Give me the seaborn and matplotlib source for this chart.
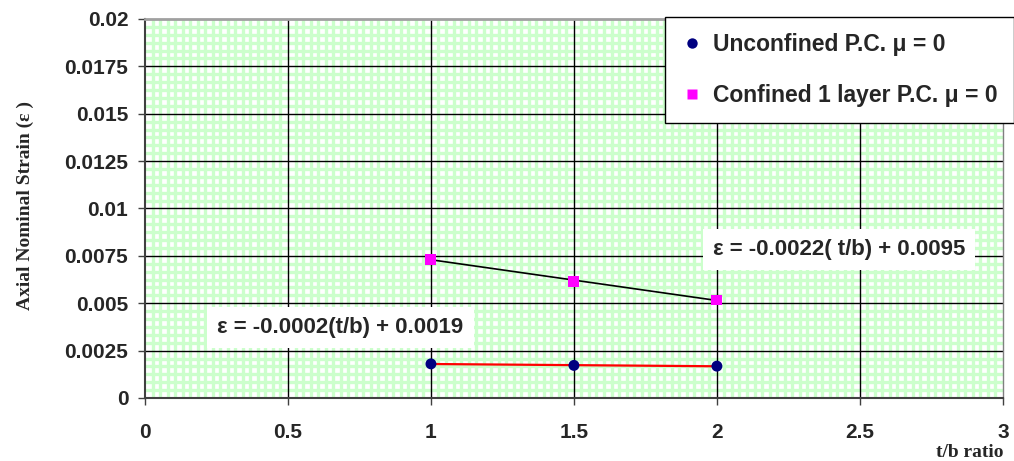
import numpy as np
import pandas as pd
import matplotlib
matplotlib.use("Agg")
import matplotlib.pyplot as plt
import seaborn as sns
from matplotlib.ticker import MultipleLocator, AutoMinorLocator

# dados
tb_ratio = [1.0, 1.5, 2.0]
unconfined = [0.00180, 0.00172, 0.00168]
confined = [0.00732, 0.00617, 0.00517]
nome_uncon = "Unconfined P.C. \u03bc = 0"
nome_con = "Confined 1 layer P.C. \u03bc = 0"
eq_uncon = "\u03b5 = -0.0002(t/b) + 0.0019"
eq_con = "\u03b5 = -0.0022( t/b) + 0.0095"
xticks = [0, 0.5, 1, 1.5, 2, 2.5, 3]
xtick_labels = ["0", "0.5", "1", "1.5", "2", "2.5", "3"]
yticks = [0, 0.0025, 0.005, 0.0075, 0.01, 0.0125, 0.015, 0.0175, 0.02]
ytick_labels = ["0", "0.0025", "0.005", "0.0075", "0.01", "0.0125", "0.015", "0.0175", "0.02"]

df = pd.DataFrame({
    "tb": tb_ratio * 2,
    "strain": unconfined + confined,
    "serie": [nome_uncon] * 3 + [nome_con] * 3,
})

sns.set_style("white")
plt.rcParams["font.family"] = ["Liberation Sans", "DejaVu Sans"]

fig = plt.figure(figsize=(10.14, 4.61), dpi=100)
ax = fig.add_axes([0.143, 0.1367, 0.846, 0.8221])

# grade verde fina (minor) e grade preta (major) por cima
ax.set_xlim(0, 3)
ax.set_ylim(0, 0.02)
ax.xaxis.set_minor_locator(AutoMinorLocator(19))
ax.yaxis.set_minor_locator(AutoMinorLocator(6))
ax.grid(which="minor", color="#ccffcc", lw=2.4)
ax.set_axisbelow(True)
for xv in xticks[1:-1]:
    ax.axvline(xv, color="black", lw=1.0, zorder=1.5)
for yv in yticks[1:-1]:
    ax.axhline(yv, color="black", lw=1.0, zorder=1.5)

# linhas de tendencia
sns.regplot(x=tb_ratio, y=confined, ax=ax, scatter=False, ci=None, truncate=True,
            line_kws={"color": "black", "lw": 1.2, "zorder": 3})
sns.regplot(x=tb_ratio, y=unconfined, ax=ax, scatter=False, ci=None, truncate=True,
            line_kws={"color": "red", "lw": 1.6, "zorder": 3})

sns.scatterplot(data=df, x="tb", y="strain", hue="serie", style="serie",
                palette={nome_uncon: "#000080", nome_con: "#ff00ff"},
                markers={nome_uncon: "o", nome_con: "s"},
                s=62, edgecolor="none", ax=ax, zorder=4)

ax.set_xlim(0, 3)
ax.set_ylim(0, 0.02)
ax.set_xticks(xticks)
ax.set_xticklabels(xtick_labels)
ax.set_yticks(yticks)
ax.set_yticklabels(ytick_labels)
ax.tick_params(axis="both", which="major", labelsize=15, length=5, width=1, color="#404040",
               direction="out", left=True, bottom=True)
ax.tick_params(axis="x", pad=13)
ax.tick_params(axis="y", pad=7)
ax.tick_params(axis="both", which="minor", length=0)
for lab in ax.get_xticklabels() + ax.get_yticklabels():
    lab.set_fontweight("bold")

for s in ["left", "bottom"]:
    ax.spines[s].set_color("#404040")
    ax.spines[s].set_linewidth(1.5)
ax.spines["top"].set_color("#a0a0a0")
ax.spines["top"].set_linewidth(2)
ax.spines["right"].set_color("#808080")
ax.spines["right"].set_linewidth(1.0)

ax.set_xlabel("")
ax.set_ylabel("")
fig.text(0.025, 0.555, "Axial Nominal Strain (\u03b5 )", family="Liberation Serif",
         fontweight="bold", fontsize=14, rotation=90, ha="center", va="center")
fig.text(0.99, 0.0, "t/b ratio", family="Liberation Serif", fontweight="bold",
         fontsize=14, ha="right", va="bottom")

# equacoes
caixa = dict(boxstyle="square,pad=0.45", facecolor="white", edgecolor="none")
ax.text(1.985, 0.00781, eq_con, fontsize=16, fontweight="bold", ha="left", va="center",
        bbox=caixa, zorder=5)
ax.text(0.253, 0.00373, eq_uncon, fontsize=16, fontweight="bold", ha="left", va="center",
        bbox=caixa, zorder=5)

leg = ax.legend(loc="upper left", bbox_to_anchor=(0.606, 1.005), frameon=True, fancybox=False,
                prop={"weight": "bold", "size": 16.5}, borderpad=0.7, handlelength=1.0,
                labelspacing=1.2, handletextpad=0.4, markerscale=0.95, borderaxespad=0)
leg.get_frame().set_edgecolor("black")
leg.get_frame().set_linewidth(1.0)
leg.get_frame().set_alpha(1)
leg.set_zorder(6)

fig.savefig("out.png", dpi=100)
